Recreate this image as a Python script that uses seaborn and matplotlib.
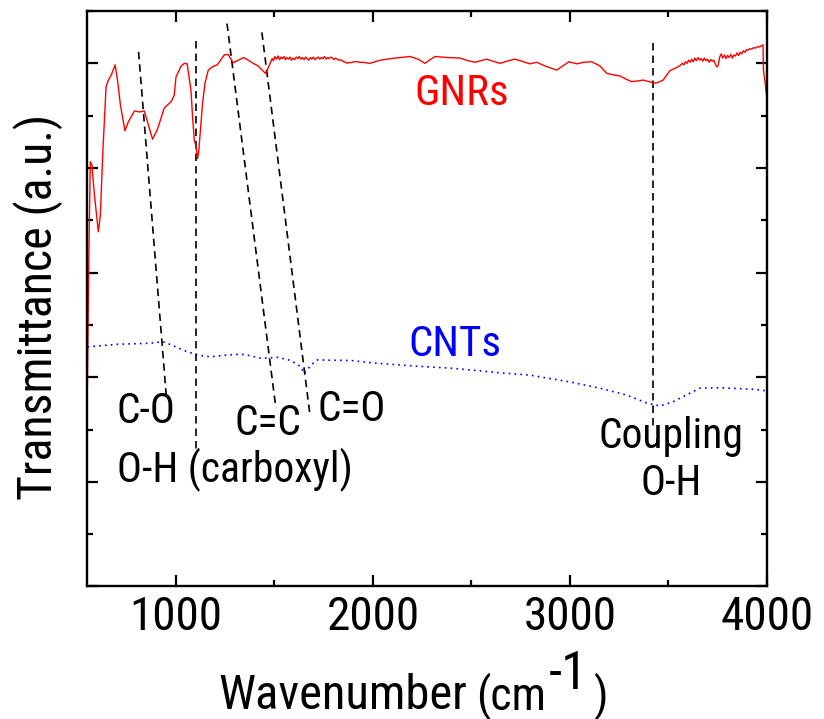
import matplotlib
matplotlib.use("Agg")
import matplotlib.pyplot as plt
import pandas as pd
import seaborn as sns
from matplotlib.ticker import MultipleLocator, NullFormatter

# ---- FTIR spectra (wavenumber in cm^-1, transmittance in arbitrary units) ----
gnr_wavenumber = [
    550, 558, 565, 573, 586, 606, 616, 629, 645, 657, 672, 691, 703, 718, 741, 758,
    789, 814, 839, 860, 881, 905, 941, 976, 991, 1000, 1025, 1042, 1057, 1062, 1076,
    1084, 1093, 1100, 1110, 1116, 1123, 1135, 1147, 1164, 1184, 1209, 1245, 1265,
    1290, 1316, 1343, 1367, 1392, 1417, 1438, 1453, 1463, 1478,
    1488, 1495, 1502, 1510, 1519, 1526, 1533, 1540, 1548, 1555, 1562, 1570, 1578,
    1586, 1594, 1602, 1610, 1618, 1626, 1634, 1642, 1650, 1658, 1666, 1674, 1682,
    1690, 1698, 1706, 1714, 1722, 1730, 1738, 1746, 1754, 1762, 1770, 1778, 1786,
    1794, 1802, 1810, 1818, 1826, 1834, 1843, 1852, 1861, 1869, 1878, 1886, 1894,
    1905, 1919, 1935, 1950, 1965, 1985,
    2036, 2112, 2188, 2229, 2264, 2290, 2315, 2381, 2442, 2482, 2518, 2577, 2609,
    2645, 2680, 2719, 2756, 2796, 2831, 2873, 2932, 2964, 2994, 3035, 3070, 3110,
    3152, 3186, 3218, 3253, 3283, 3312, 3339, 3371, 3400, 3431, 3451, 3473, 3507,
    3537, 3560,
    3570, 3578, 3586, 3594, 3602, 3610, 3618, 3626, 3634, 3642, 3650, 3658, 3666,
    3674, 3682, 3690, 3698, 3706, 3714, 3722, 3730, 3738, 3746, 3752, 3760, 3768,
    3776, 3784, 3792, 3800, 3808, 3816, 3824, 3832, 3840, 3848, 3856, 3864, 3872,
    3880, 3888, 3896, 3904, 3912, 3922, 3932, 3942, 3952, 3962, 3972, 3980, 3982,
    3990, 3996, 4000,
]
gnr_transmittance = [
    3.79, 6.43, 8.12, 8.06, 7.48, 6.78, 7.10, 8.34, 9.55, 9.68, 9.78, 9.97, 9.68,
    9.20, 8.71, 8.88, 9.09, 9.07, 9.09, 8.82, 8.55, 8.73, 9.15, 9.27, 9.39, 9.74,
    9.94, 10.00, 9.99, 9.84, 9.49, 8.98, 8.53, 8.44, 8.18, 8.34, 8.67, 9.24, 9.62,
    9.87, 9.93, 9.97, 10.16, 10.17, 10.01, 10.06, 10.11, 10.06, 10.00, 9.95, 9.87,
    9.81, 9.87, 10.00,
    10.09, 10.05, 10.13, 10.08, 10.14, 10.07, 10.12, 10.09, 10.13, 10.07, 10.11,
    10.08, 10.12, 10.06, 10.10, 10.07, 10.12, 10.09, 10.13, 10.08, 10.11, 10.07,
    10.12, 10.09, 10.06, 10.11, 10.08, 10.12, 10.07, 10.10, 10.12, 10.08, 10.11,
    10.09, 10.13, 10.08, 10.11, 10.09, 10.12, 10.10, 10.07, 10.10, 10.08, 10.06,
    10.07, 10.05, 10.03, 10.02, 10.00, 10.02, 10.01, 10.02, 10.03, 10.03, 10.02,
    10.02, 10.01, 10.00,
    10.06, 10.10, 10.13, 10.08, 10.00, 10.07, 10.13, 10.11, 10.10, 10.05, 10.02,
    10.08, 10.04, 10.00, 10.04, 10.08, 10.04, 9.99, 10.02, 9.95, 9.87, 9.95, 10.03,
    9.99, 10.02, 10.03, 9.95, 9.81, 9.78, 9.76, 9.70, 9.65, 9.66, 9.68, 9.65, 9.62,
    9.64, 9.68, 9.86, 9.91, 9.96,
    10.00, 9.97, 10.03, 10.00, 10.06, 10.02, 10.08, 10.03, 10.10, 10.05, 10.11,
    10.06, 10.09, 10.04, 10.10, 10.05, 10.08, 10.02, 10.07, 10.04, 10.06, 9.98,
    9.93, 9.96, 10.12, 10.18, 10.10, 10.16, 10.09, 10.15, 10.11, 10.17, 10.10,
    10.16, 10.14, 10.20, 10.15, 10.21, 10.18, 10.24, 10.21, 10.26, 10.25, 10.28,
    10.27, 10.30, 10.29, 10.32, 10.31, 10.34, 10.35, 9.87, 9.65, 9.43, 9.30,
]

cnt_wavenumber = [
    551, 702, 873, 932, 975, 1042, 1110, 1177, 1245, 1330, 1380, 1431, 1515, 1583,
    1634, 1651, 1685, 1718, 1887, 2006, 2225, 2408, 2628, 2797, 2999, 3152, 3287,
    3388, 3456, 3523, 3591, 3659, 3760, 3929, 4000,
]
cnt_transmittance = [
    4.58, 4.63, 4.65, 4.68, 4.62, 4.51, 4.42, 4.39, 4.42, 4.44, 4.41, 4.36, 4.38,
    4.32, 4.20, 4.07, 4.23, 4.33, 4.32, 4.27, 4.21, 4.17, 4.09, 4.04, 3.91, 3.79,
    3.66, 3.51, 3.45, 3.53, 3.66, 3.79, 3.80, 3.77, 3.74,
]

# ---- band assignment guide lines: (w_top, y_top, w_bottom, y_bottom) ----
band_names = ["C-O", "O-H (carboxyl)", "C=C", "C=O", "Coupling\nO-H"]
band_guides = [
    (810, 10.22, 951, 3.63),
    (1101, 10.43, 1101, 2.61),
    (1259, 10.76, 1507, 3.41),
    (1436, 10.59, 1681, 3.25),
    (3422, 10.38, 3422, 3.02),
]
band_text_pos = [(849, 3.34), (1301, 2.23), (1468, 3.11), (1894, 3.39), (3512, 2.42)]

series_names = ["GNRs", "CNTs"]
series_colors = ["#ff0000", "#0000ff"]
series_text_pos = [(2452, 9.43), (2416, 4.62)]

x_limits = (550, 4000)
y_limits = (0, 11)

# ---- styling ----
sns.set_style("ticks")
FONT = ["Roboto Condensed", "Archivo Narrow", "DejaVu Sans"]
plt.rcParams["font.family"] = FONT
plt.rcParams.update({
    "xtick.direction": "in", "ytick.direction": "in",
    "xtick.top": True, "ytick.right": True,
    "axes.linewidth": 1.7,
    "text.color": "black", "xtick.color": "black", "ytick.color": "black",
    "xtick.labelcolor": "black", "axes.edgecolor": "black",
})

fig = plt.figure(figsize=(8.24, 7.19), dpi=100)
ax = fig.add_axes([0.106, 0.1843, 0.8248, 0.8004])

gnr = pd.DataFrame({"wavenumber": gnr_wavenumber, "transmittance": gnr_transmittance})
cnt = pd.DataFrame({"wavenumber": cnt_wavenumber, "transmittance": cnt_transmittance})

sns.lineplot(data=gnr, x="wavenumber", y="transmittance", ax=ax, sort=False,
             estimator=None, color=series_colors[0], linewidth=1.0)
sns.lineplot(data=cnt, x="wavenumber", y="transmittance", ax=ax, sort=False,
             estimator=None, color=series_colors[1], linewidth=1.2,
             linestyle=(0, (1, 2.5)))

for (w0, y0, w1, y1) in band_guides:
    ax.plot([w0, w1], [y0, y1], color="black", linewidth=1.2,
            linestyle=(0, (4.5, 3)), zorder=1)

for name, (tx, ty) in zip(band_names, band_text_pos):
    ax.text(tx, ty, name, fontsize=30, ha="center", va="center",
            color="black", linespacing=1.2)

for name, col, (tx, ty) in zip(series_names, series_colors, series_text_pos):
    ax.text(tx, ty, name, fontsize=31, ha="center", va="center", color=col)

ax.set_xlim(*x_limits)
ax.set_ylim(*y_limits)
ax.xaxis.set_major_locator(MultipleLocator(1000))
ax.xaxis.set_minor_locator(MultipleLocator(500))
ax.yaxis.set_major_locator(MultipleLocator(2))
ax.yaxis.set_minor_locator(MultipleLocator(1))
ax.yaxis.set_major_formatter(NullFormatter())
ax.tick_params(axis="both", which="major", length=8, width=1.6, color="black")
ax.tick_params(axis="both", which="minor", length=4, width=1.6, color="black")
ax.tick_params(axis="x", which="major", labelsize=34, pad=6, labelcolor="black")
ax.set_xlabel("")
ax.set_ylabel("")
for s in ax.spines.values():
    s.set_visible(True)
    s.set_color("black")

# axis titles
fig.text(0.046, 0.573, "Transmittance (a.u.)", rotation=90, fontsize=34.5,
         ha="center", va="center")

fig.canvas.draw()
renderer = fig.canvas.get_renderer()
W, H = fig.bbox.width, fig.bbox.height
base_y = 1 - 709 / 719
t_main = fig.text(218 / W, base_y, "Wavenumber", fontsize=35, ha="left", va="baseline")
x_next = t_main.get_window_extent(renderer).x1 / W + 9 / W
t_unit = fig.text(x_next, base_y, "(cm", fontsize=33, ha="left", va="baseline")
x_next = t_unit.get_window_extent(renderer).x1 / W + 3 / W
t_exp = fig.text(x_next, base_y + 0.028, "-1", fontsize=38, ha="left", va="baseline")
x_next = t_exp.get_window_extent(renderer).x1 / W + 6 / W
fig.text(x_next, base_y, ")", fontsize=33, ha="left", va="baseline")

fig.savefig("out.png", dpi=100)
